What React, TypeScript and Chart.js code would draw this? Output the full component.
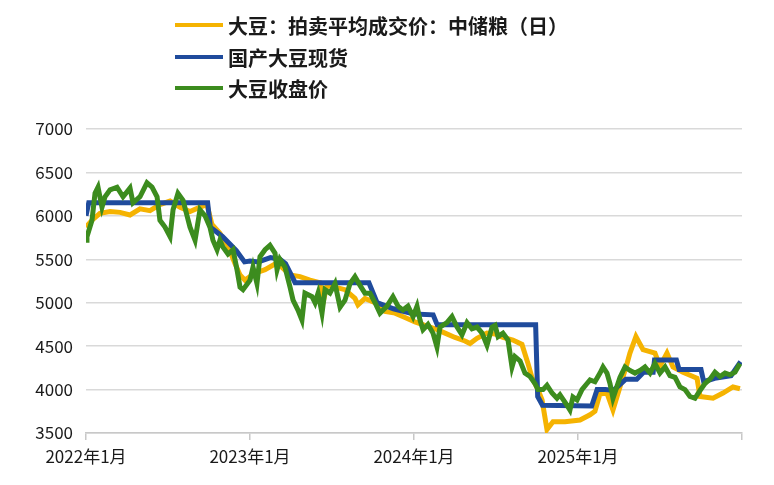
import React, { useEffect, useRef } from "react";
import { Chart, registerables } from "chart.js";

Chart.register(...registerables);

// x positions are months elapsed since 2022年1月
const xTickLabels = ["2022年1月", "2023年1月", "2024年1月", "2025年1月", ""];
const yTicks = [3500, 4000, 4500, 5000, 5500, 6000, 6500, 7000];

const seriesNames = ["大豆：拍卖平均成交价：中储粮（日）", "国产大豆现货", "大豆收盘价"];
const seriesColors = ["#F5B301", "#1F4B9C", "#3C8C1E"];

const auctionMonths = [0, 0.44, 1.02, 1.76, 2.49, 3.22, 3.95, 4.68, 5.41, 6.15, 6.88, 7.61, 8.34, 8.85, 9.22, 9.8, 10.39, 10.9, 11.27, 11.63, 12.0, 12.37, 13.1, 13.98, 14.93, 15.66, 16.39, 17.12, 17.34, 17.63, 18.22, 18.95, 19.68, 19.9, 20.41, 21.15, 21.88, 22.61, 23.34, 24.07, 24.8, 25.54, 26.27, 27.0, 27.73, 28.1, 28.61, 29.34, 29.93, 30.51, 31.24, 31.9, 32.34, 32.63, 33.07, 33.37, 33.73, 34.17, 35.05, 36.15, 36.88, 37.24, 37.61, 38.12, 38.56, 39.07, 39.59, 39.8, 40.24, 40.76, 41.63, 42.0, 42.51, 42.95, 43.68, 44.71, 44.93, 45.88, 46.61, 47.34, 47.85];
const auctionValues = [5870, 5950, 6030, 6050, 6040, 6010, 6080, 6060, 6130, 6170, 6100, 6050, 6100, 6130, 5900, 5800, 5650, 5450, 5320, 5260, 5300, 5340, 5380, 5460, 5320, 5300, 5260, 5230, 5000, 5200, 5180, 5150, 5050, 4975, 5050, 5000, 4900, 4880, 4830, 4780, 4740, 4700, 4650, 4600, 4560, 4530, 4590, 4650, 4640, 4600, 4570, 4520, 4300, 4140, 4000, 3880, 3540, 3630, 3630, 3650, 3710, 3750, 3950, 3960, 3765, 4030, 4300, 4420, 4610, 4460, 4420, 4270, 4420, 4260, 4200, 4130, 3920, 3900, 3960, 4030, 4010];

const spotMonths = [0, 0.2, 8.9, 9.1, 10.0, 11.0, 11.6, 12.0, 12.6, 13.5, 14.2, 14.6, 15.3, 20.7, 21.3, 22.5, 24.0, 25.4, 25.7, 32.9, 33.05, 33.4, 37.0, 37.4, 38.0, 38.6, 39.5, 40.3, 40.8, 41.5, 41.6, 43.2, 43.4, 45.0, 45.2, 46.0, 47.2, 47.9];
const spotValues = [6000, 6150, 6150, 5870, 5760, 5600, 5470, 5480, 5470, 5520, 5500, 5450, 5230, 5230, 5000, 4930, 4870, 4860, 4745, 4745, 3920, 3820, 3810, 4000, 4000, 3990, 4120, 4120, 4200, 4200, 4340, 4340, 4230, 4230, 4090, 4130, 4160, 4320];

const closeMonths = [0.0, 0.07, 0.44, 0.66, 0.88, 1.17, 1.39, 1.76, 2.27, 2.71, 3.22, 3.44, 3.95, 4.46, 4.83, 5.2, 5.41, 5.78, 6.15, 6.37, 6.73, 7.1, 7.61, 7.98, 8.34, 8.71, 9.07, 9.29, 9.59, 9.8, 10.02, 10.39, 10.76, 11.05, 11.27, 11.49, 12.0, 12.22, 12.51, 12.73, 13.1, 13.46, 13.83, 13.98, 14.19, 14.56, 14.93, 15.15, 15.51, 15.8, 16.02, 16.54, 16.76, 16.98, 17.27, 17.49, 17.85, 18.22, 18.59, 18.95, 19.32, 19.68, 20.05, 20.41, 20.78, 21.15, 21.51, 22.02, 22.46, 22.83, 23.19, 23.56, 23.93, 24.22, 24.44, 24.66, 25.02, 25.39, 25.68, 25.9, 26.41, 26.78, 27.15, 27.51, 27.88, 28.24, 28.61, 28.98, 29.34, 29.71, 29.93, 30.15, 30.51, 30.88, 31.17, 31.39, 31.76, 32.12, 32.49, 32.85, 33.07, 33.44, 33.73, 34.1, 34.46, 34.68, 35.19, 35.41, 35.63, 35.93, 36.29, 36.66, 36.88, 37.24, 37.61, 37.83, 38.12, 38.34, 38.56, 39.07, 39.44, 39.8, 40.17, 40.54, 40.9, 41.27, 41.63, 42.0, 42.37, 42.73, 43.1, 43.46, 43.83, 44.19, 44.56, 44.93, 45.29, 45.66, 46.02, 46.39, 46.76, 47.12, 47.49, 47.85];
const closeValues = [5720, 5760, 5950, 6260, 6330, 6100, 6220, 6300, 6330, 6220, 6320, 6150, 6220, 6380, 6330, 6220, 5950, 5870, 5760, 6070, 6260, 6180, 5870, 5720, 6070, 6000, 5870, 5720, 5610, 5720, 5640, 5560, 5610, 5380, 5180, 5150, 5260, 5410, 5220, 5530, 5610, 5660, 5570, 5380, 5500, 5410, 5180, 5030, 4915, 4800, 5110, 5070, 5000, 5110, 4880, 5150, 5110, 5220, 4950, 5030, 5220, 5300, 5200, 5110, 5110, 5000, 4880, 4960, 5070, 4960, 4915, 4960, 4840, 4960, 4800, 4690, 4750, 4650, 4490, 4720, 4770, 4840, 4720, 4630, 4770, 4700, 4720, 4650, 4510, 4720, 4740, 4610, 4650, 4570, 4260, 4380, 4330, 4190, 4150, 4070, 4000, 4000, 4050, 3960, 3900, 3940, 3820, 3765, 3915, 3880, 4000, 4070, 4110, 4090, 4190, 4260, 4190, 4070, 3900, 4140, 4260, 4220, 4190, 4220, 4260, 4190, 4300, 4190, 4260, 4160, 4140, 4030, 4000, 3920, 3900, 3990, 4070, 4120, 4200, 4150, 4190, 4170, 4200, 4300];

const toPoints = (xs: number[], ys: number[]) => xs.map((x, i) => ({ x, y: ys[i] }));

const FONT = '"Noto Sans CJK SC", "Noto Sans", sans-serif';

export default function App() {
  const canvasRef = useRef<HTMLCanvasElement | null>(null);

  useEffect(() => {
    if (!canvasRef.current) return;
    const chart = new Chart(canvasRef.current, {
      type: "line",
      data: {
        datasets: [
          {
            label: seriesNames[0],
            data: toPoints(auctionMonths, auctionValues),
            borderColor: seriesColors[0],
            backgroundColor: seriesColors[0],
            borderWidth: 5,
            pointRadius: 0,
            order: 2,
          },
          {
            label: seriesNames[1],
            data: toPoints(spotMonths, spotValues),
            borderColor: seriesColors[1],
            backgroundColor: seriesColors[1],
            borderWidth: 5,
            pointRadius: 0,
            order: 1,
          },
          {
            label: seriesNames[2],
            data: toPoints(closeMonths, closeValues),
            borderColor: seriesColors[2],
            backgroundColor: seriesColors[2],
            borderWidth: 5,
            pointRadius: 0,
            order: 0,
          },
        ],
      },
      options: {
        animation: false,
        responsive: true,
        maintainAspectRatio: false,
        layout: { padding: { top: 129, right: 32, bottom: 0, left: 0 } },
        plugins: { legend: { display: false }, tooltip: { enabled: false } },
        scales: {
          x: {
            type: "linear",
            min: 0,
            max: 48,
            afterFit: (s: any) => {
              s.height = 52;
            },
            afterBuildTicks: (s: any) => {
              s.ticks = xTickLabels.map((_, i) => ({ value: i * 12 }));
            },
            ticks: {
              callback: (v: any) => xTickLabels[Math.round(Number(v) / 12)] ?? "",
              font: { family: FONT, size: 17 },
              color: "#1a1a1a",
              padding: 6,
              maxRotation: 0,
              autoSkip: false,
            },
            grid: {
              drawOnChartArea: false,
              drawTicks: true,
              tickLength: 7,
              color: "#c8c8c8",
              lineWidth: 1.5,
            },
            border: { display: true, color: "#c8c8c8", width: 1.5 },
          },
          y: {
            min: 3500,
            max: 7000,
            afterFit: (s: any) => {
              s.width = 86;
            },
            afterBuildTicks: (s: any) => {
              s.ticks = yTicks.map((v) => ({ value: v }));
            },
            ticks: {
              callback: (v: any) => String(v),
              font: { family: FONT, size: 17 },
              color: "#1a1a1a",
              padding: 13,
            },
            grid: { color: "#d9d9d9", lineWidth: 1.5, drawTicks: false },
            border: { display: false },
          },
        },
      },
    });
    return () => chart.destroy();
  }, []);

  const legendRows = [25, 57, 88];

  return (
    <div style={{ position: "absolute", left: 0, top: 0, width: 774, height: 485, background: "#fff" }}>
      <canvas ref={canvasRef} />
      {seriesNames.map((name, i) => (
        <div
          key={name}
          style={{
            position: "absolute",
            left: 175,
            top: legendRows[i] - 15,
            height: 30,
            display: "flex",
            alignItems: "center",
            fontFamily: FONT,
            fontSize: 20,
            fontWeight: 700,
            color: "#1a1a1a",
            whiteSpace: "nowrap",
          }}
        >
          <span style={{ display: "inline-block", width: 48, height: 4, background: seriesColors[i], marginRight: 5 }} />
          <span>{name}</span>
        </div>
      ))}
    </div>
  );
}
